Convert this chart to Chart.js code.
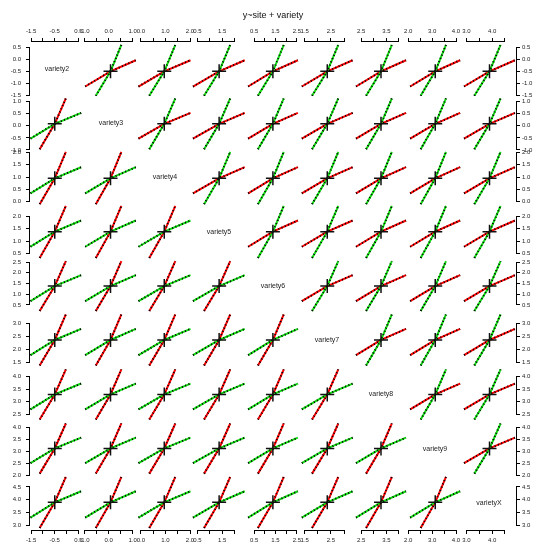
<!DOCTYPE html>
<html>
<head>
<meta charset="utf-8">
<script src="https://cdn.jsdelivr.net/npm/chart.js@4.4.0/dist/chart.umd.min.js"></script>
<style>
  html, body { margin: 0; padding: 0; background: #fff; }
  canvas { display: block; }
</style>
</head>
<body>
<canvas id="splom" width="536" height="542"></canvas>
<script>
// one entry per variable of the scatterplot matrix
const varieties = ['variety2', 'variety3', 'variety4', 'variety5', 'variety6', 'variety7', 'variety8', 'variety9', 'varietyX'];
const axisMin = [-1.55, -1.02, -0.12, 0.28, 0.12, 1.32, 2.22, 1.99, 2.83];
const axisMax = [0.74, 1.22, 2.08, 2.47, 2.65, 3.38, 4.36, 4.25, 4.93];
const tickValues = [
  [-1.5, -1.0, -0.5, 0.0, 0.5],
  [-1.0, -0.5, 0.0, 0.5, 1.0],
  [0.0, 0.5, 1.0, 1.5, 2.0],
  [0.5, 1.0, 1.5, 2.0],
  [0.5, 1.0, 1.5, 2.0, 2.5],
  [1.5, 2.0, 2.5, 3.0],
  [2.5, 3.0, 3.5, 4.0],
  [2.0, 2.5, 3.0, 3.5, 4.0],
  [3.0, 3.5, 4.0, 4.5]
];
// centre of each variety (where the crosses sit)
const centers = [-0.5, 0.08, 0.95, 1.38, 1.38, 2.36, 3.29, 3.13, 3.9];
// long end of the lines (spans the panel)
const fullLo = [-1.53, -0.97, -0.1, 0.32, 0.22, 1.39, 2.3, 2.08, 2.91];
const fullHi = [0.62, 1.13, 2.02, 2.42, 2.55, 3.33, 4.28, 4.17, 4.89];
// short end of the lines
const narrowLo = [-1.14, -0.53, 0.34, 0.77, 0.68, 1.78, 2.7, 2.52, 3.31];
const narrowHi = [-0.03, 0.53, 1.4, 1.83, 1.89, 2.78, 3.72, 3.58, 4.33];

const RED = '#ff0000';
const GREEN = '#11dd11';
const FONT = "'Liberation Sans', Arial, sans-serif";
const N = varieties.length;

const datasets = [];

function addLine(pts, color, xId, yId) {
  datasets.push({
    data: pts, showLine: true, borderColor: color, borderWidth: 2,
    pointRadius: 0, xAxisID: xId, yAxisID: yId, order: 3
  });
  // black dotting on top of the coloured line
  datasets.push({
    data: pts, showLine: true, borderColor: '#000', borderWidth: 2, borderDash: [1, 2.5],
    pointRadius: 0, xAxisID: xId, yAxisID: yId, order: 2
  });
}

for (let r = 0; r < N; r++) {
  for (let c = 0; c < N; c++) {
    if (r === c) continue;
    const a = Math.min(r, c), b = Math.max(r, c);
    const xId = 'x' + c, yId = 'y' + r;
    // pairs are (value of variety a, value of variety b)
    const green = [[fullLo[a], narrowLo[b]], [centers[a], centers[b]], [fullHi[a], narrowHi[b]]];
    const red = [[narrowLo[a], fullLo[b]], [centers[a], centers[b]], [narrowHi[a], fullHi[b]]];
    const toPts = pairs => pairs.map(([va, vb]) => (r === a ? { x: vb, y: va } : { x: va, y: vb }));
    addLine(toPts(green), GREEN, xId, yId);
    addLine(toPts(red), RED, xId, yId);
    datasets.push({
      data: [{ x: centers[c], y: centers[r] }],
      pointStyle: 'cross', pointRadius: 7, pointBorderWidth: 1.5,
      pointBorderColor: '#111', pointBackgroundColor: '#111',
      showLine: false, xAxisID: xId, yAxisID: yId, order: 1
    });
  }
}

function makeAxis(i, position, weight) {
  const isX = position === 'top' || position === 'bottom';
  const size = { top: 21.2, bottom: 12, left: 30, right: 20 }[position];
  return {
    type: 'linear',
    position: position,
    stack: isX ? 'cols' : 'rows',
    stackWeight: 1,
    weight: weight,
    bounds: 'data',
    min: axisMin[i],
    max: axisMax[i],
    grid: { drawOnChartArea: false, drawTicks: true, tickLength: 4, color: '#000', lineWidth: 1 },
    border: { display: false },
    ticks: {
      autoSkip: false,
      maxRotation: 0,
      padding: { top: 3, bottom: 3, left: 5, right: 2 }[position],
      color: '#222',
      font: { family: FONT, size: 6 },
      callback: (v, idx) => (isX && idx % 2 ? '' : Number(v).toFixed(1))
    },
    afterBuildTicks: s => { s.ticks = tickValues[i].map(v => ({ value: v })); },
    afterFit: s => {
      if (isX) s.height = size; else s.width = size;
      s.paddingLeft = s.paddingRight = s.paddingTop = s.paddingBottom = 0;
    }
  };
}

const scales = {};
for (let i = 0; i < N; i++) {
  scales['x' + i] = makeAxis(i, 'bottom', i);
  scales['xt' + i] = makeAxis(i, 'top', N - i);
  scales['y' + i] = makeAxis(i, 'left', N - i);
  scales['yr' + i] = makeAxis(i, 'right', i);
}

// R style axis line: only from first to last tick
const axisLines = {
  id: 'axisLines',
  afterDraw(chart) {
    const ctx = chart.ctx;
    ctx.save();
    ctx.strokeStyle = '#000';
    ctx.lineWidth = 1;
    Object.values(chart.scales).forEach(s => {
      const p0 = s.getPixelForValue(s.ticks[0].value);
      const p1 = s.getPixelForValue(s.ticks[s.ticks.length - 1].value);
      ctx.beginPath();
      if (s.position === 'top') { ctx.moveTo(p0, s.bottom - 0.5); ctx.lineTo(p1, s.bottom - 0.5); }
      if (s.position === 'bottom') { ctx.moveTo(p0, s.top + 0.5); ctx.lineTo(p1, s.top + 0.5); }
      if (s.position === 'left') { ctx.moveTo(s.right - 0.5, p0); ctx.lineTo(s.right - 0.5, p1); }
      if (s.position === 'right') { ctx.moveTo(s.left + 0.5, p0); ctx.lineTo(s.left + 0.5, p1); }
      ctx.stroke();
    });
    ctx.restore();
  }
};

// variety names in the diagonal panels
const diagLabels = {
  id: 'diagLabels',
  afterDatasetsDraw(chart) {
    const ctx = chart.ctx;
    ctx.save();
    ctx.fillStyle = '#222';
    ctx.font = '7px ' + FONT;
    ctx.textAlign = 'center';
    ctx.textBaseline = 'middle';
    for (let i = 0; i < N; i++) {
      const xs = chart.scales['x' + i], ys = chart.scales['y' + i];
      ctx.fillText(varieties[i], (xs.left + xs.right) / 2, (ys.top + ys.bottom) / 2);
    }
    ctx.restore();
  }
};

new Chart(document.getElementById('splom'), {
  type: 'scatter',
  data: { datasets },
  options: {
    responsive: false,
    animation: false,
    events: [],
    layout: { padding: 0, autoPadding: false },
    scales: scales,
    plugins: {
      legend: { display: false },
      tooltip: { enabled: false },
      title: {
        display: true,
        text: 'y~site + variety',
        fullSize: false,
        color: '#111',
        font: { family: FONT, size: 9, weight: 'normal' },
        padding: { top: 10, bottom: 0 }
      }
    }
  },
  plugins: [axisLines, diagLabels]
});
</script>
</body>
</html>
